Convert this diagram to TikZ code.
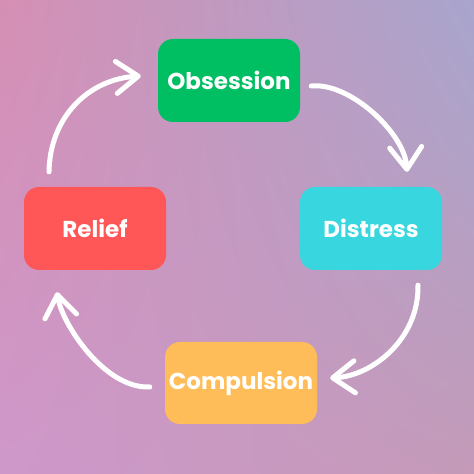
\documentclass[tikz,border=0pt]{standalone}
\usepackage{fontspec}
\setmainfont{Poppins}
\usetikzlibrary{arrows.meta,shadings}

\definecolor{bgTL}{RGB}{214,143,180}
\definecolor{bgTR}{RGB}{168,165,205}
\definecolor{bgBL}{RGB}{206,152,202}
\definecolor{bgBR}{RGB}{196,154,184}
\definecolor{obsGreen}{RGB}{0,191,99}
\definecolor{disCyan}{RGB}{56,214,222}
\definecolor{relRed}{RGB}{255,87,87}
\definecolor{comOrange}{RGB}{255,189,89}

\begin{document}
\begin{tikzpicture}[x=1pt,y=1pt,
    font=\bfseries\fontsize{23}{27}\selectfont,
    box/.style={rounded corners=15pt,text=white,inner sep=0pt},
    loop/.style={white,line width=5pt,line cap=round,
      -{Straight Barb[length=22pt,width=32pt,round]}}]
  % background
  \shade[upper left=bgTL,upper right=bgTR,lower left=bgBL,lower right=bgBR]
    (0,0) rectangle (474,474);
  \useasboundingbox (0,0) rectangle (474,474);
  % the four stages
  \node[box,fill=obsGreen,minimum width=142pt,minimum height=83pt]
    (obsession) at (229,393.5) {Obsession};
  \node[box,fill=disCyan,minimum width=142pt,minimum height=83pt]
    (distress) at (371,245.5) {Distress};
  \node[box,fill=comOrange,minimum width=152pt,minimum height=82pt]
    (compulsion) at (241,91) {Compulsion};
  \node[box,fill=relRed,minimum width=142pt,minimum height=83pt]
    (relief) at (95,245.5) {Relief};
  % arrow ends
  \coordinate (r-out) at ([shift={(-46,15)}]relief.north);
  \coordinate (o-in) at ([shift={(-17,4.5)}]obsession.west);
  \coordinate (o-out) at ([shift={(11,-5.5)}]obsession.east);
  \coordinate (d-in) at ([shift={(36,15)}]distress.north);
  \coordinate (d-out) at ([shift={(47,-15)}]distress.south);
  \coordinate (c-in) at ([shift={(13,5)}]compulsion.east);
  \coordinate (c-out) at ([shift={(-15,-4)}]compulsion.west);
  \coordinate (r-in) at ([shift={(-38,-22)}]relief.south);
  % the cycle
  \draw[loop] (r-out) .. controls +(1,56) and +(-51,-3) .. (o-in);
  \draw[loop] (o-out) .. controls +(39,4) and +(-2,38) .. (d-in);
  \draw[loop] (d-out) .. controls +(1,-54) and +(42,2) .. (c-in);
  \draw[loop] (c-out) .. controls +(-45,-2) and +(5,-32) .. (r-in);
\end{tikzpicture}
\end{document}
